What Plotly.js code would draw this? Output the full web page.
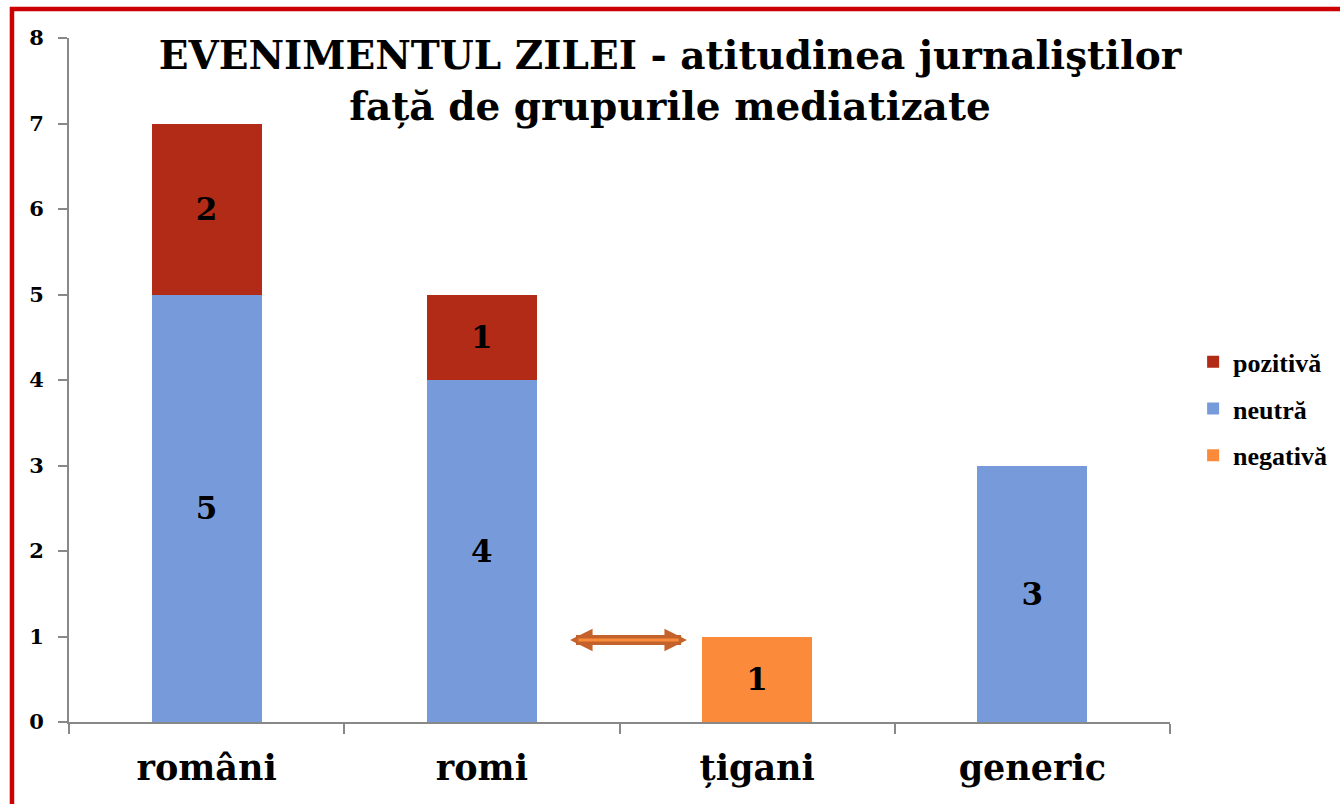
<!DOCTYPE html>
<html>
<head>
<meta charset="utf-8">
<script src="https://cdn.plot.ly/plotly-3.0.1.min.js"></script>
<style>
html,body{margin:0;padding:0;background:#fff;}
#chart{width:1340px;height:804px;}
</style>
</head>
<body>
<div id="chart"></div>
<script>
const categories = ["români", "romi", "\u021Bigani", "generic"];
const neutra = [5, 4, null, 3];
const pozitiva = [2, 1, null, null];
const negativa = [null, null, 1, null];
const yTicks = [0, 1, 2, 3, 4, 5, 6, 7, 8];

const serif = "DejaVu Serif, Liberation Serif, serif";
const labelFont = {family: serif, size: 31, color: "#000", weight: "bold"};

function barTrace(name, vals, color, group, rank) {
  return {
    type: "bar", name: name, x: categories, y: vals,
    marker: {color: color},
    width: 0.4,
    text: vals.map(v => v === null ? "" : String(v)),
    texttemplate: "<b>%{text}</b>",
    textposition: "inside", insidetextanchor: "middle",
    textangle: 0, constraintext: "none",
    textfont: labelFont, insidetextfont: labelFont,
    legendgroup: group, legendrank: rank, hoverinfo: "skip"
  };
}

const traces = [
  barTrace("negativă", negativa, "#FB8A3A", "c", 3),
  barTrace("neutră", neutra, "#779BDA", "b", 2),
  barTrace("pozitivă", pozitiva, "#B22B17", "a", 1)
];

const layout = {
  width: 1340, height: 804,
  margin: {l: 69, r: 170, t: 38, b: 82, autoexpand: false},
  paper_bgcolor: "#fff", plot_bgcolor: "#fff",
  barmode: "stack",
  showlegend: true,
  title: {
    text: "<b>EVENIMENTUL ZILEI - atitudinea jurnali\u015Ftilor<br>fa\u021B\u0103 de grupurile mediatizate</b>",
    font: {family: serif, size: 39, color: "#000"},
    xref: "container", x: 0.5, xanchor: "center",
    yref: "container", y: 0.914, yanchor: "top"
  },
  xaxis: {
    type: "category",
    showline: true, linecolor: "#888", linewidth: 2,
    ticks: "outside", tickson: "boundaries", ticklen: 10, tickcolor: "#888", tickwidth: 2,
    showgrid: false, zeroline: false,
    tickfont: {family: serif, size: 35, color: "#000", weight: "bold"},
    ticklabelstandoff: 14,
    automargin: false,
    fixedrange: true
  },
  yaxis: {
    range: [0, 8], tickvals: yTicks,
    showline: true, linecolor: "#888", linewidth: 2,
    ticks: "outside", ticklen: 9, tickcolor: "#888", tickwidth: 2,
    showgrid: false, zeroline: false,
    tickfont: {family: serif, size: 21, color: "#000", weight: "bold"},
    ticklabelstandoff: 10,
    automargin: false,
    fixedrange: true
  },
  legend: {
    traceorder: "grouped",
    x: 1.021, xanchor: "left", y: 0.561, yanchor: "top",
    font: {family: "Liberation Serif, serif", size: 26, color: "#000", weight: "bold"},
    tracegroupgap: 10,
    bgcolor: "rgba(0,0,0,0)"
  },
  annotations: [
    {
      x: 1.745, y: 0.96, ax: 1.315, ay: 0.96,
      xref: "x", yref: "y", axref: "x", ayref: "y",
      text: "", showarrow: true, arrowside: "end+start",
      arrowhead: 2, arrowsize: 0.45, arrowwidth: 10, arrowcolor: "#C4622B"
    },
    {
      x: 1.715, y: 0.96, ax: 1.345, ay: 0.96,
      xref: "x", yref: "y", axref: "x", ayref: "y",
      text: "", showarrow: true, arrowhead: 0,
      arrowwidth: 3, arrowcolor: "#F98B3C"
    }
  ],
  shapes: [
    {type: "rect", xref: "paper", yref: "paper",
     x0: -0.0518, x1: 1.17, y0: -0.14, y1: 1.0424,
     line: {color: "#CC0000", width: 4.5}, fillcolor: "rgba(0,0,0,0)"}
  ]
};

Plotly.newPlot("chart", traces, layout, {staticPlot: true});
</script>
</body>
</html>
